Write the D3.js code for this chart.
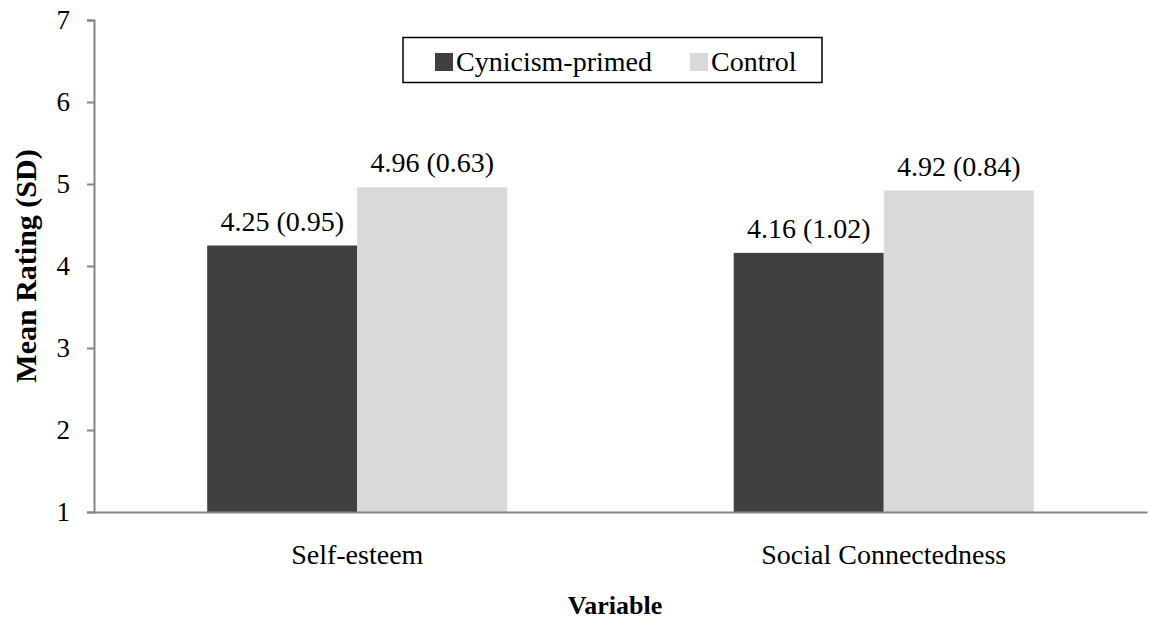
<!DOCTYPE html>
<html>
<head>
<meta charset="utf-8">
<script src="https://cdn.jsdelivr.net/npm/d3@7"></script>
<style>
  body { margin: 0; background: #fff; }
  text { font-family: "Liberation Serif", "Times New Roman", serif; fill: #000; }
</style>
</head>
<body>
<svg id="chart" width="1149" height="622"></svg>
<script>
const categories = ["Self-esteem", "Social Connectedness"];
const seriesNames = ["Cynicism-primed", "Control"];
const cynicismMeans = [4.25, 4.16];
const cynicismSDs = [0.95, 1.02];
const controlMeans = [4.96, 4.92];
const controlSDs = [0.63, 0.84];
const yTicks = [1, 2, 3, 4, 5, 6, 7];
const colors = ["#404040", "#d9d9d9"];

const series = [
  { name: seriesNames[0], means: cynicismMeans, sds: cynicismSDs, color: colors[0] },
  { name: seriesNames[1], means: controlMeans, sds: controlSDs, color: colors[1] }
];

const svg = d3.select("#chart");
const W = 1149, H = 622;
const x0 = 94, x1 = W - 2;
const yTop = 20, yBot = 512;

const x = d3.scaleBand().domain(categories).range([x0, x1]).paddingInner(0.43).paddingOuter(0.215);
const xs = d3.scaleBand().domain(seriesNames).range([0, x.bandwidth()]);
const y = d3.scaleLinear().domain([1, 7]).range([yBot, yTop]);

// bars
categories.forEach((c, i) => {
  series.forEach(s => {
    svg.append("rect")
      .attr("x", x(c) + xs(s.name))
      .attr("y", y(s.means[i]))
      .attr("width", xs.bandwidth())
      .attr("height", y(1) - y(s.means[i]))
      .attr("fill", s.color);
    svg.append("text")
      .attr("x", x(c) + xs(s.name) + xs.bandwidth() / 2)
      .attr("y", y(s.means[i]) - 15)
      .attr("text-anchor", "middle")
      .attr("font-size", 28)
      .text(`${s.means[i].toFixed(2)} (${s.sds[i].toFixed(2)})`);
  });
});

// y axis
const yAxis = svg.append("g").attr("transform", `translate(${x0},0)`)
  .call(d3.axisLeft(y).tickValues(yTicks).tickFormat(d3.format("d")).tickSize(7).tickPadding(17));
yAxis.select(".domain").attr("stroke", "#868686").attr("stroke-width", 2);
yAxis.selectAll(".tick line").attr("stroke", "#868686").attr("stroke-width", 2);
yAxis.selectAll(".tick text").attr("font-size", 27).attr("font-family", "Liberation Serif").attr("fill", "#000");

// x axis
const xAxis = svg.append("g").attr("transform", `translate(0,${yBot})`)
  .call(d3.axisBottom(x).tickSize(0).tickPadding(32));
xAxis.select(".domain").attr("stroke", "#868686").attr("stroke-width", 2);
xAxis.selectAll(".tick text").attr("font-size", 28).attr("font-family", "Liberation Serif").attr("fill", "#000");

// axis titles
svg.append("text")
  .attr("transform", `translate(36,${(yTop + yBot) / 2}) rotate(-90)`)
  .attr("text-anchor", "middle")
  .attr("font-size", 30).attr("font-weight", "bold")
  .text("Mean Rating (SD)");
svg.append("text")
  .attr("x", 615).attr("y", 614)
  .attr("text-anchor", "middle")
  .attr("font-size", 26).attr("font-weight", "bold")
  .text("Variable");

// legend
const lg = svg.append("g");
lg.append("rect").attr("x", 403).attr("y", 37.5).attr("width", 419).attr("height", 45)
  .attr("fill", "#fff").attr("stroke", "#000").attr("stroke-width", 1.5);
const legendX = [435, 690];
series.forEach((s, i) => {
  lg.append("rect").attr("x", legendX[i]).attr("y", 53).attr("width", 18).attr("height", 18).attr("fill", s.color);
  lg.append("text").attr("x", legendX[i] + 21).attr("y", 71).attr("font-size", 28).text(s.name);
});
</script>
</body>
</html>
